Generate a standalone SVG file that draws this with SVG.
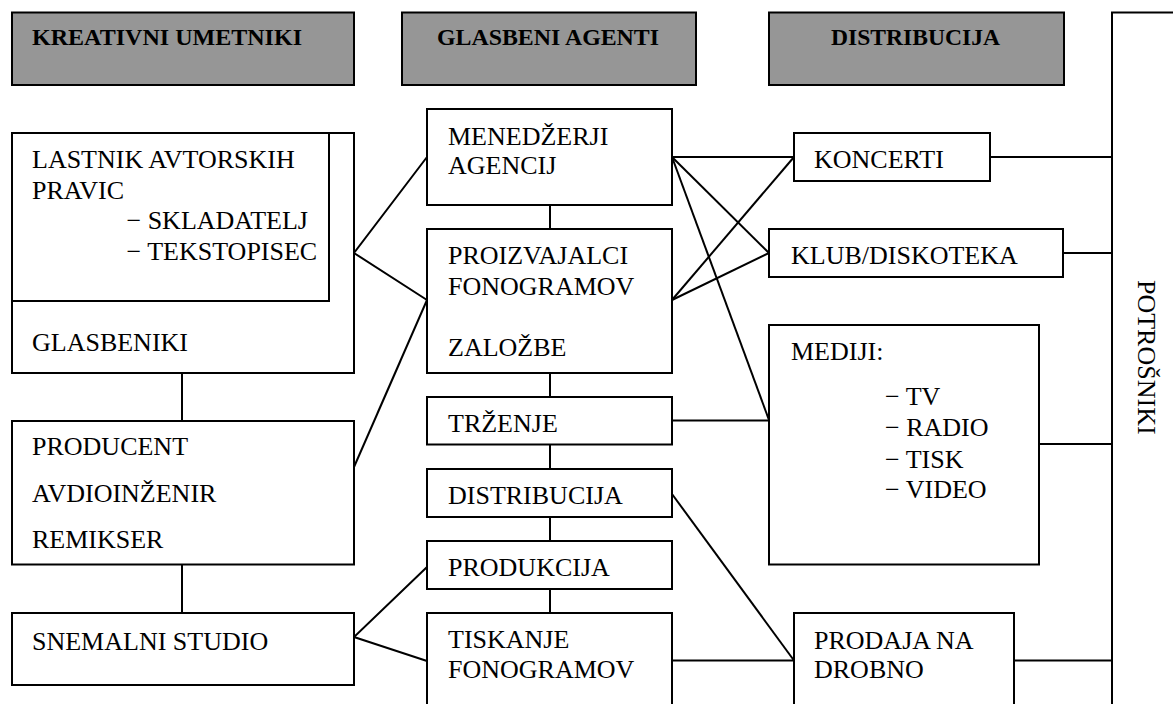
<svg xmlns="http://www.w3.org/2000/svg" width="1173" height="704" viewBox="0 0 1173 704">
<style>
.box{fill:#ffffff;stroke:#000000;stroke-width:2}
.hdr{fill:#969696;stroke:#000000;stroke-width:2}
.c line, .c polyline{stroke:#000000;stroke-width:2;fill:none}
</style>
<rect width="1173" height="704" fill="#ffffff"/>
<g font-family="'Liberation Serif', 'DejaVu Serif', 'Times New Roman', Times, serif" fill="#000000">
<g font-size="24" font-weight="bold">
<g id="hdr-kreativni"><rect class="hdr" x="12" y="12.5" width="342" height="72.5"/><text x="32" y="45" textLength="270" lengthAdjust="spacingAndGlyphs">KREATIVNI UMETNIKI</text></g>
<g id="hdr-agenti"><rect class="hdr" x="402" y="12.5" width="294" height="72.5"/><text x="437" y="45" textLength="222" lengthAdjust="spacingAndGlyphs">GLASBENI AGENTI</text></g>
<g id="hdr-distribucija"><rect class="hdr" x="769" y="12.5" width="295" height="72.5"/><text x="831" y="45" textLength="169" lengthAdjust="spacingAndGlyphs">DISTRIBUCIJA</text></g>
</g>
<g font-size="26">
<g id="potrosniki"><rect class="box" x="1112" y="12.5" width="120" height="760"/><text transform="translate(1138 280) rotate(90)">POTROŠNIKI</text></g>
<g id="connectors" class="c">
<line x1="182" y1="373" x2="182" y2="421"/>
<line x1="182" y1="564" x2="182" y2="613"/>
<line x1="550" y1="205" x2="550" y2="229"/>
<line x1="550" y1="373" x2="550" y2="397"/>
<line x1="550" y1="444" x2="550" y2="469"/>
<line x1="550" y1="517" x2="550" y2="541"/>
<line x1="550" y1="589" x2="550" y2="613"/>
<polyline points="427,157 354,253 427,300"/>
<line x1="354" y1="467" x2="427" y2="300"/>
<polyline points="427,567 354,637 427,661"/>
<line x1="672" y1="157" x2="794" y2="157"/>
<line x1="672" y1="157" x2="769" y2="253"/>
<line x1="672" y1="157" x2="769" y2="420"/>
<line x1="672" y1="300" x2="794" y2="157"/>
<line x1="672" y1="300" x2="769" y2="253"/>
<line x1="672" y1="420.5" x2="769" y2="420.5"/>
<line x1="672" y1="494" x2="794" y2="660.5"/>
<line x1="672" y1="660.5" x2="794" y2="660.5"/>
<line x1="990" y1="157" x2="1112" y2="157"/>
<line x1="1063" y1="253" x2="1112" y2="253"/>
<line x1="1039" y1="444" x2="1112" y2="444"/>
<line x1="1014" y1="660.5" x2="1112" y2="660.5"/>
</g>
<g id="glasbeniki"><rect class="box" x="12" y="133" width="342" height="240"/><text x="32" y="351">GLASBENIKI</text></g>
<g id="lastnik"><rect class="box" x="12" y="133" width="317" height="168"/><text x="32" y="168">LASTNIK AVTORSKIH</text><text x="32" y="198.5">PRAVIC</text><text x="126.5" y="229">− SKLADATELJ</text><text x="126.5" y="259.5">− TEKSTOPISEC</text></g>
<g id="producent"><rect class="box" x="12" y="421" width="342" height="143.5"/><text x="32" y="455">PRODUCENT</text><text x="32" y="501.5">AVDIOINŽENIR</text><text x="32" y="547.5">REMIKSER</text></g>
<g id="studio"><rect class="box" x="12" y="613" width="342" height="72"/><text x="32" y="650">SNEMALNI STUDIO</text></g>
<g id="menedzerji"><rect class="box" x="427" y="109" width="245" height="96"/><text x="448" y="144.5">MENEDŽERJI</text><text x="448" y="174">AGENCIJ</text></g>
<g id="proizvajalci"><rect class="box" x="427" y="229" width="245" height="144"/><text x="448" y="264">PROIZVAJALCI</text><text x="448" y="294.5">FONOGRAMOV</text><text x="448" y="356">ZALOŽBE</text></g>
<g id="trzenje"><rect class="box" x="427" y="397" width="245" height="47.5"/><text x="448" y="432">TRŽENJE</text></g>
<g id="distribucija"><rect class="box" x="427" y="469" width="245" height="48"/><text x="448" y="504">DISTRIBUCIJA</text></g>
<g id="produkcija"><rect class="box" x="427" y="541" width="245" height="48"/><text x="448" y="576">PRODUKCIJA</text></g>
<g id="tiskanje"><rect class="box" x="427" y="613" width="245" height="120"/><text x="448" y="647.5">TISKANJE</text><text x="448" y="677.5">FONOGRAMOV</text></g>
<g id="koncerti"><rect class="box" x="794" y="133" width="196" height="48"/><text x="814" y="168">KONCERTI</text></g>
<g id="klub"><rect class="box" x="769" y="229" width="294" height="48"/><text x="791" y="264">KLUB/DISKOTEKA</text></g>
<g id="mediji"><rect class="box" x="769" y="325" width="270" height="239.5"/><text x="791" y="359.5">MEDIJI:</text><text x="885" y="405">− TV</text><text x="885" y="436">− RADIO</text><text x="885" y="467.5">− TISK</text><text x="885" y="497.5">− VIDEO</text></g>
<g id="prodaja"><rect class="box" x="794" y="613" width="220" height="120"/><text x="814" y="648.5">PRODAJA NA</text><text x="814" y="678">DROBNO</text></g>
</g>
</g>
</svg>
